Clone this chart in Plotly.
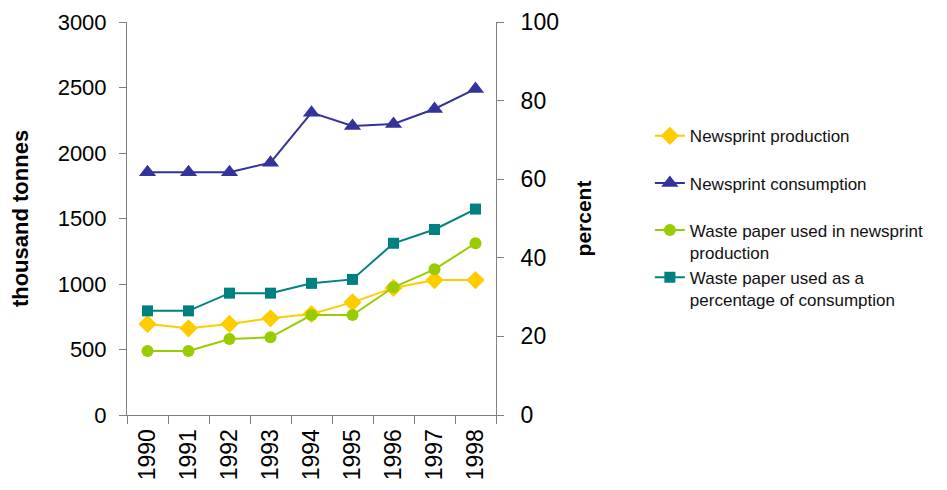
import plotly.graph_objects as go

years = ["1990", "1991", "1992", "1993", "1994", "1995", "1996", "1997", "1998"]
newsprint_production = [695, 662, 695, 738, 771, 860, 970, 1030, 1030]
newsprint_consumption = [1853, 1853, 1853, 1926, 2308, 2206, 2221, 2336, 2489]
waste_paper_used = [489, 489, 580, 593, 763, 763, 975, 1112, 1311]
waste_pct_consumption = [26.5, 26.5, 31.0, 31.0, 33.5, 34.5, 43.7, 47.2, 52.4]

names = [
    "Newsprint production",
    "Newsprint consumption",
    "Waste paper used in newsprint<br>production",
    "Waste paper used as a<br>percentage of consumption",
]
colors = ["#FFCC00", "#333399", "#99CC00", "#008080"]

AX = "#7f7f7f"
FONT = "Liberation Sans, Arial, sans-serif"

fig = go.Figure()
fig.add_trace(go.Scatter(x=years, y=newsprint_production, name=names[0], mode="lines+markers",
                         line=dict(color=colors[0], width=2),
                         marker=dict(symbol="diamond", size=14, color=colors[0]),
                         legendgroup="g1"))
fig.add_trace(go.Scatter(x=years, y=newsprint_consumption, name=names[1], mode="lines+markers",
                         line=dict(color=colors[1], width=2),
                         marker=dict(symbol="triangle-up", size=15, color=colors[1]),
                         legendgroup="g2"))
fig.add_trace(go.Scatter(x=years, y=waste_paper_used, name=names[2], mode="lines+markers",
                         line=dict(color=colors[2], width=2),
                         marker=dict(symbol="circle", size=12, color=colors[2]),
                         legendgroup="g3"))
fig.add_trace(go.Scatter(x=years, y=waste_pct_consumption, name=names[3], mode="lines+markers",
                         line=dict(color=colors[3], width=2),
                         marker=dict(symbol="square", size=11, color=colors[3]),
                         legendgroup="g3", yaxis="y2"))

# page body has an 8px margin, so the figure is offset by (8, 8)
fig.update_layout(
    width=939, height=482,
    margin=dict(l=119, r=451, t=14, b=75),
    paper_bgcolor="white", plot_bgcolor="white",
    font=dict(family=FONT, color="black"),
    showlegend=True,
    legend=dict(x=1.417, y=0.755, xanchor="left", yanchor="top",
                font=dict(size=17, family=FONT, color="#111111"),
                valign="top", tracegroupgap=22, itemwidth=30,
                bgcolor="rgba(0,0,0,0)"),
    xaxis=dict(type="category", tickson="boundaries", ticks="outside", ticklen=8,
               tickcolor=AX, linecolor=AX, showline=True, showgrid=False, zeroline=False,
               tickangle=-90, tickfont=dict(size=23), ticklabelstandoff=4,
               range=[-0.5, 8.5], automargin=False),
    xaxis2=dict(overlaying="x", range=[-0.5, 8.5], tick0=-0.5, dtick=1, ticks="inside",
                ticklen=7, tickcolor=AX, showticklabels=False, showgrid=False,
                zeroline=False, showline=False, side="bottom", anchor="y", automargin=False),
    yaxis=dict(range=[0, 3000], dtick=500, ticks="outside", ticklen=7, tickcolor=AX,
               linecolor=AX, showline=True, showgrid=False, zeroline=False,
               tickfont=dict(size=22), ticklabelstandoff=8, automargin=False,
               title=dict(text="<b>thousand tonnes</b>", font=dict(size=22), standoff=22)),
    yaxis2=dict(range=[0, 100], dtick=20, overlaying="y", side="right", ticks="outside",
                ticklen=7, tickcolor=AX, linecolor=AX, showline=True, showgrid=False,
                zeroline=False, tickfont=dict(size=23), ticklabelstandoff=12, automargin=False,
                title=dict(text="<b>percent</b>", font=dict(size=21), standoff=18)),
    yaxis3=dict(range=[0, 3000], dtick=500, overlaying="y", side="left", ticks="inside",
                ticklen=6, tickcolor=AX, showticklabels=False, showgrid=False,
                zeroline=False, showline=False, automargin=False),
    yaxis4=dict(range=[0, 100], dtick=20, overlaying="y", side="right", ticks="inside",
                ticklen=6, tickcolor=AX, showticklabels=False, showgrid=False,
                zeroline=False, showline=False, automargin=False),
)

fig.write_html("out.html")
